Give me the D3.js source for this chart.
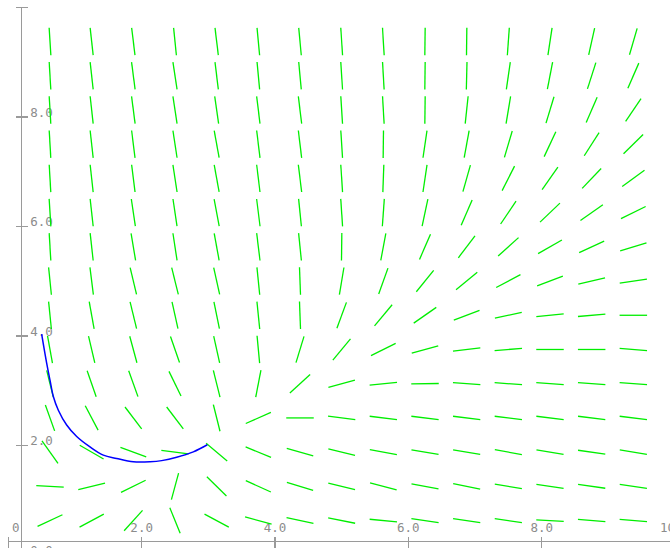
<!DOCTYPE html>
<html><head><meta charset="utf-8">
<script src="https://cdn.jsdelivr.net/npm/d3@7/dist/d3.min.js"></script>
<style>body{margin:0;background:#fff;overflow:hidden}svg{display:block}</style>
</head><body>
<script>
// grid of the direction field (data units)
const gridX = [0.625,1.25,1.875,2.5,3.125,3.75,4.375,5,5.625,6.25,6.875,7.5,8.125,8.75,9.375];
const gridY = [9.375,8.75,8.125,7.5,6.875,6.25,5.625,5,4.375,3.75,3.125,2.5,1.875,1.25,0.625]; // top to bottom
// slope dy/dx read at each grid point, one row per gridY entry (top to bottom)
const slopeRow15 = [-19,-11,-10,-12,-10,-13,-13,-19,-20,99,99,17,8,5.5,4.2];
const slopeRow14 = [-21,-11,-9.4,-8,-10,-13,-13,-19,-21,99,50,8.4,6.3,3.8,2.8];
const slopeRow13 = [-21,-11,-9.4,-8,-8.5,-10,-10,-19,-21,99,11.4,7.3,4,2.8,1.8];
const slopeRow12 = [-21,-11,-9.7,-8,-6.7,-10,-10,-19,99,8.3,6.7,4.1,2.6,1.9,1.2];
const slopeRow11 = [-21,-11,-9.7,-8,-6.7,-10,-10,-19,34,8.2,4.3,2.4,1.74,1.28,0.88];
const slopeRow10 = [-19,-11,-8.2,-8.2,-6.5,-9.7,-12,-18,17,5.7,2.8,1.8,1.16,0.86,0.6];
const slopeRow9  = [-21,-11,-7.3,-8,-6.7,-10,-12,99,6.5,2.8,1.6,1.1,0.7,0.56,0.37];
const slopeRow8  = [-12,-9.7,-5.1,-4.9,-5.5,-12,-33,7.3,3.4,1.5,1.0,0.65,0.46,0.29,0.18];
const slopeRow7  = [-12,-6.7,-5,-5.5,-6,-12,-33,3.3,1.46,0.85,0.46,0.26,0.12,0.11,0];
const slopeRow6  = [-6.7,-5.2,-4.5,-3.5,-5.5,-13,4,1.46,0.6,0.34,0.15,0.1,0,0,-0.1];
const slopeRow5  = [-4.9,-3.5,-3.4,-2.5,-4.9,6.3,1.12,0.33,0.12,0.02,-0.09,-0.09,-0.09,-0.09,-0.09];
const slopeRow4  = [-3.4,-2.3,-1.6,-1.6,-4.9,0.54,0,-0.16,-0.15,-0.15,-0.15,-0.15,-0.15,-0.15,-0.15];
const slopeRow3  = [-1.7,-0.7,-0.45,-0.15,-1.02,-0.5,-0.34,-0.3,-0.22,-0.21,-0.21,-0.22,-0.21,-0.17,-0.2];
const slopeRow2  = [-0.07,0.29,0.6,4.5,-1.2,-0.55,-0.38,-0.29,-0.32,-0.23,-0.24,-0.21,-0.18,-0.17,-0.18];
const slopeRow1  = [0.57,0.65,1.35,-3,-0.65,-0.33,-0.26,-0.24,-0.12,-0.18,-0.18,-0.18,-0.07,-0.1,-0.1];
const slopeRows = [slopeRow15,slopeRow14,slopeRow13,slopeRow12,slopeRow11,slopeRow10,slopeRow9,slopeRow8,
                   slopeRow7,slopeRow6,slopeRow5,slopeRow4,slopeRow3,slopeRow2,slopeRow1];
// solution curve
const curveX = [0.50,0.575,0.625,0.675,0.75,0.875,1.025,1.225,1.425,1.625,1.875,2.125,2.30,2.525,2.775,2.985];
const curveY = [4.03,3.50,3.19,2.89,2.64,2.37,2.16,1.97,1.82,1.76,1.70,1.70,1.72,1.78,1.88,2.01];
// axes
const xTicks = [0,2,4,6,8,10];
const xTickLabels = ["0","2.0","4.0","6.0","8.0","10.0"];
const yTicks = [0,2,4,6,8];
const yTickLabels = ["0.0","2.0","4.0","6.0","8.0"];
const axisCrossX = 0.2, axisCrossY = 0.24;

const W = 670, H = 548;
const x = d3.scaleLinear().domain([0,10]).range([8.33,675]);
const y = d3.scaleLinear().domain([0,10]).range([554.8,7.3]);
const svg = d3.select("body").append("svg").attr("width",W).attr("height",H);

const axisColor = "#9a9a9a", textColor = "#8c8c8c";
const ax = svg.append("g").attr("stroke",axisColor).attr("stroke-width",1.4).attr("shape-rendering","crispEdges");
const ya = x(axisCrossX), xa = y(axisCrossY);
ax.append("line").attr("x1",ya).attr("x2",ya).attr("y1",y(10)).attr("y2",H+5);
ax.append("line").attr("x1",ya-6).attr("x2",ya+6).attr("y1",y(10)).attr("y2",y(10));
ax.append("line").attr("x1",x(0)).attr("x2",W+5).attr("y1",xa).attr("y2",xa);
ax.append("line").attr("x1",x(0)).attr("x2",x(0)).attr("y1",xa-5).attr("y2",xa+6);
yTicks.forEach(t => ax.append("line").attr("x1",ya-6).attr("x2",ya+6).attr("y1",y(t)).attr("y2",y(t)));
xTicks.slice(1).forEach(t => ax.append("line").attr("x1",x(t)).attr("x2",x(t)).attr("y1",xa-5).attr("y2",xa+6));

const tx = svg.append("g").attr("fill",textColor).attr("font-family","'DejaVu Sans Mono', monospace").attr("font-size",12.5);
yTicks.forEach((t,i) => tx.append("text").attr("x",ya+8.5).attr("y",y(t)).text(yTickLabels[i]));
xTicks.forEach((t,i) => tx.append("text").attr("x", i===0 ? x(t)+7.5 : x(t)).attr("y",xa-10)
  .attr("text-anchor","middle").text(xTickLabels[i]));

// direction field
const half = 13.75;
const segs = [];
gridY.forEach((gy,j) => gridX.forEach((gx,i) => {
  const s = slopeRows[j][i];
  const px = x(gx), py = y(gy);
  const dx = x(gx+1)-x(gx), dy = y(gy+s)-y(gy);
  const L = Math.hypot(dx,dy);
  segs.push({x1:px-dx/L*half, y1:py-dy/L*half, x2:px+dx/L*half, y2:py+dy/L*half});
}));
svg.append("g").attr("stroke","#00ee00").attr("stroke-width",1.3)
  .selectAll("line").data(segs).join("line")
  .attr("x1",d=>d.x1).attr("y1",d=>d.y1).attr("x2",d=>d.x2).attr("y2",d=>d.y2);

// solution curve
const pts = curveX.map((v,i)=>[v,curveY[i]]);
svg.append("path").datum(pts).attr("fill","none").attr("stroke","#0000ff").attr("stroke-width",1.5)
  .attr("d", d3.line().x(d=>x(d[0])).y(d=>y(d[1])).curve(d3.curveCatmullRom));
</script>
</body></html>
